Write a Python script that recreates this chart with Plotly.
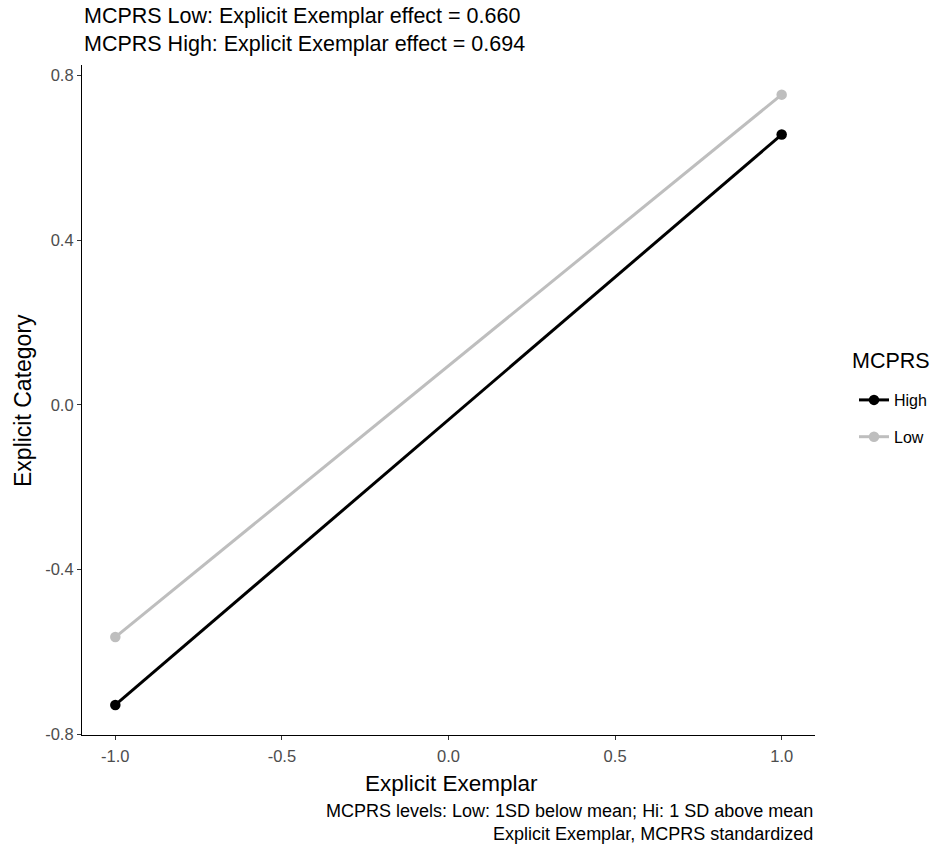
import plotly.graph_objects as go

x_vals = [-1.0, 1.0]
high_vals = [-0.729, 0.657]
low_vals = [-0.564, 0.754]
series_names = ["High", "Low"]
series_colors = ["#000000", "#BEBEBE"]

x_ticks = [-1.0, -0.5, 0.0, 0.5, 1.0]
x_tick_text = ["-1.0", "-0.5", "0.0", "0.5", "1.0"]
y_ticks = [-0.8, -0.4, 0.0, 0.4, 0.8]
y_tick_text = ["-0.8", "-0.4", "0.0", "0.4", "0.8"]

title_lines = ["MCPRS Low: Explicit Exemplar effect = 0.660",
               "MCPRS High: Explicit Exemplar effect = 0.694"]
caption_lines = ["MCPRS levels: Low: 1SD below mean; Hi: 1 SD above mean",
                 "Explicit Exemplar, MCPRS standardized"]
legend_title = "MCPRS"

FONT = "Liberation Sans, Arial, Helvetica, sans-serif"
L, R, T, B = 82, 123, 65, 111
W, H = 938, 846
PW, PH = W - L - R, H - T - B


def px_x(p):
    return (p - L) / PW


def px_y(p):
    return (H - B - p) / PH


fig = go.Figure()
for i, (name, vals) in enumerate(zip(series_names, [high_vals, low_vals])):
    fig.add_trace(go.Scatter(
        x=x_vals, y=vals, mode="lines+markers", name=name,
        legendgroup=name,
        line=dict(color=series_colors[i], width=3),
        marker=dict(color=series_colors[i], size=10.5),
    ))

fig.update_layout(
    width=W, height=H,
    margin=dict(l=L, r=R, t=T, b=B, autoexpand=False),
    plot_bgcolor="white", paper_bgcolor="white",
    font=dict(family=FONT, color="#000000"),
    showlegend=True,
    legend=dict(
        font=dict(size=16, color="#000000"),
        x=px_x(854), xanchor="left", y=px_y(383), yanchor="top",
        tracegroupgap=13, itemwidth=30,
        bgcolor="rgba(0,0,0,0)",
    ),
    xaxis=dict(
        range=[-1.1, 1.1], tickvals=x_ticks, ticktext=x_tick_text,
        showgrid=False, zeroline=False, showline=True, linecolor="#000000", linewidth=1.2,
        ticks="outside", ticklen=4, tickcolor="#333333", tickwidth=1,
        tickfont=dict(size=16.5, color="#4d4d4d"), ticklabelstandoff=2,
    ),
    yaxis=dict(
        range=[-0.802, 0.826], tickvals=y_ticks, ticktext=y_tick_text,
        showgrid=False, zeroline=False, showline=True, linecolor="#000000", linewidth=1.2,
        ticks="outside", ticklen=4, tickcolor="#333333", tickwidth=1,
        tickfont=dict(size=16.5, color="#4d4d4d"),
    ),
)

# Title (two lines, left aligned)
fig.add_annotation(
    text="<br>".join(title_lines), xref="paper", yref="paper",
    x=px_x(82), y=px_y(29.5), xanchor="left", yanchor="middle", align="left",
    showarrow=False, font=dict(size=21.5, color="#000000"),
)
# Legend title
fig.add_annotation(
    text=legend_title, xref="paper", yref="paper",
    x=px_x(850), y=px_y(361), xanchor="left", yanchor="middle", align="left",
    showarrow=False, font=dict(size=21.5, color="#000000"),
)
# X axis title
fig.add_annotation(
    text="Explicit Exemplar", xref="paper", yref="paper",
    x=px_x(451), y=px_y(783), xanchor="center", yanchor="middle",
    showarrow=False, font=dict(size=22.5, color="#000000"),
)
# Y axis title
fig.add_annotation(
    text="Explicit Category", xref="paper", yref="paper",
    x=px_x(23), y=px_y(401), xanchor="center", yanchor="middle",
    textangle=-90, showarrow=False, font=dict(size=23, color="#000000"),
)
# Caption
fig.add_annotation(
    text="<br>".join(caption_lines), xref="paper", yref="paper",
    x=px_x(815), y=px_y(822.5), xanchor="right", yanchor="middle", align="right",
    showarrow=False, font=dict(size=18, color="#000000"),
)

fig.write_html("out.html")
